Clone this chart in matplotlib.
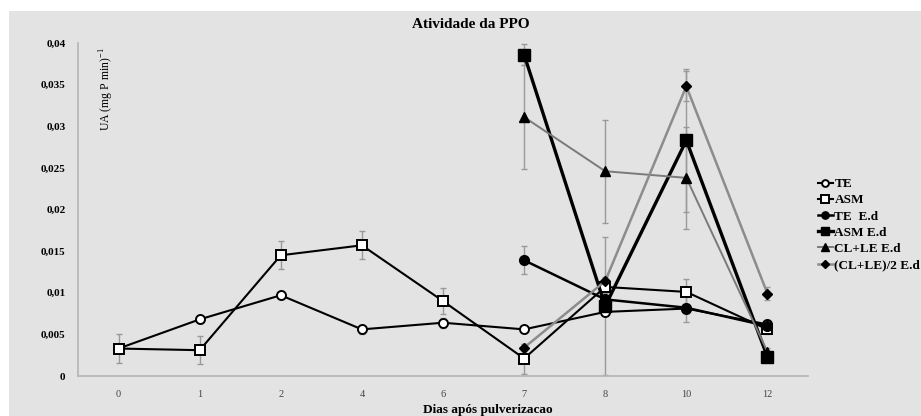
import numpy as np
import matplotlib
matplotlib.use('Agg')
import matplotlib.pyplot as plt
from matplotlib.patches import Rectangle

plt.rcParams['font.family'] = ['Liberation Serif', 'DejaVu Serif']
plt.rcParams['mathtext.fontset'] = 'custom'
plt.rcParams['mathtext.rm'] = 'Liberation Serif'

# Dias após pulverização (eixo categórico)
days = ['0', '1', '2', '4', '6', '7', '8', '10', '12']
nan = np.nan

# Atividade da PPO, UA (mg P min)-1
te = [0.0033, 0.0068, 0.0097, 0.0056, 0.0064, 0.0056, 0.0077, 0.0081, 0.0062]
te_err = [0.0005, 0.0004, 0.0004, 0.0005, 0.0006, 0.0004, 0.0005, 0.0005, 0.0005]
asm = [0.0033, 0.0031, 0.0145, 0.0157, 0.0090, 0.0021, 0.0107, 0.0101, 0.0056]
asm_err = [0.0017, 0.0017, 0.0017, 0.0017, 0.0016, 0.0018, 0.0006, 0.0015, 0.0006]
te_ed = [nan, nan, nan, nan, nan, 0.0139, 0.0092, 0.0082, 0.0060]
te_ed_err = [nan, nan, nan, nan, nan, 0.0017, 0.0008, 0.0017, 0.0005]
asm_ed = [nan, nan, nan, nan, nan, 0.0386, 0.0084, 0.0283, 0.0023]
asm_ed_err = [nan, nan, nan, nan, nan, 0.0013, 0.0083, 0.0086, 0.0005]
clle_ed = [nan, nan, nan, nan, nan, 0.0311, 0.0246, 0.0238, 0.0029]
clle_ed_err = [nan, nan, nan, nan, nan, 0.0062, 0.0062, 0.0061, 0.0005]
clle2_ed = [nan, nan, nan, nan, nan, 0.0034, 0.0114, 0.0348, 0.0099]
clle2_ed_err = [nan, nan, nan, nan, nan, 0.0004, 0.0005, 0.0018, 0.0008]

fig = plt.figure(figsize=(9.21, 4.16), dpi=100, facecolor='white')
# grey panel behind the chart, leaving a thin white strip at top and left
fig.patches.append(Rectangle((9 / 921, 0), 1, 1 - 11 / 416, transform=fig.transFigure,
                             facecolor='#e3e3e3', edgecolor='none', zorder=-10))
ax = fig.add_axes([78 / 921, 40 / 416, 730 / 921, 333 / 416])
ax.set_facecolor('none')
ax.set_zorder(1)

x = np.arange(len(days))
err_kw = dict(ecolor='#9a9a9a', elinewidth=1.0, capsize=2, capthick=1.0)

series = [
    (te, te_err, 'TE', dict(color='black', lw=1.5, marker='o', ms=6.5, mfc='white', mec='black', mew=1.4)),
    (asm, asm_err, 'ASM', dict(color='black', lw=1.5, marker='s', ms=7, mfc='white', mec='black', mew=1.4)),
    (te_ed, te_ed_err, 'TE  E.d', dict(color='black', lw=1.8, marker='o', ms=7, mfc='black', mec='black')),
    (asm_ed, asm_ed_err, 'ASM E.d', dict(color='black', lw=2.4, marker='s', ms=8, mfc='black', mec='black')),
    (clle_ed, clle_ed_err, 'CL+LE E.d', dict(color='#7a7a7a', lw=1.4, marker='^', ms=7, mfc='black', mec='black')),
    (clle2_ed, clle2_ed_err, '(CL+LE)/2 E.d', dict(color='#8c8c8c', lw=1.8, marker='D', ms=5, mfc='black', mec='black')),
]

handles = []
for vals, errs, label, style in series:
    ax.errorbar(x, vals, yerr=errs, fmt='none', zorder=2, **err_kw)
    h, = ax.plot(x, vals, label=label, zorder=3, **style)
    handles.append(h)

ax.set_xlim(-0.5, 8.5)
ax.set_ylim(0, 0.04)
ax.set_xticks(x)
ax.set_xticklabels(days, fontsize=7.5, color='#444444')
yt = np.arange(0, 0.0401, 0.005)
ax.set_yticks(yt)
ax.set_yticklabels(['0'] + [f'{v:.3f}'.rstrip('0').replace('.', ',') for v in yt[1:]],
                   fontsize=8, fontweight='bold')
ax.tick_params(axis='both', length=0)
ax.tick_params(axis='y', pad=9)
ax.tick_params(axis='x', pad=10)

for side in ['top', 'right']:
    ax.spines[side].set_visible(False)
for side in ['left', 'bottom']:
    ax.spines[side].set_color('#b5b5b5')
    ax.spines[side].set_linewidth(1.2)

ax.text(0.040, 0.988, 'UA (mg P min)$^{-1}$', transform=ax.transAxes, rotation=90,
        ha='center', va='top', fontsize=8.5)
fig.text(471 / 921, 1 - 24 / 416, 'Atividade da PPO', ha='center', va='center',
         fontsize=11, fontweight='bold')
fig.text(488 / 921, 1 - 410 / 416, 'Dias após pulverizacao', ha='center', va='center',
         fontsize=9.5, fontweight='bold')

leg = fig.legend(handles=handles, loc='upper left', bbox_to_anchor=(818 / 921, 1 - 178 / 416),
                 frameon=False, handlelength=1.1, handletextpad=0.15,
                 labelspacing=0.3, borderaxespad=0, borderpad=0, markerscale=0.75,
                 prop=dict(weight='bold', size=9.5))

fig.savefig('out.png', dpi=100, facecolor=fig.get_facecolor())
